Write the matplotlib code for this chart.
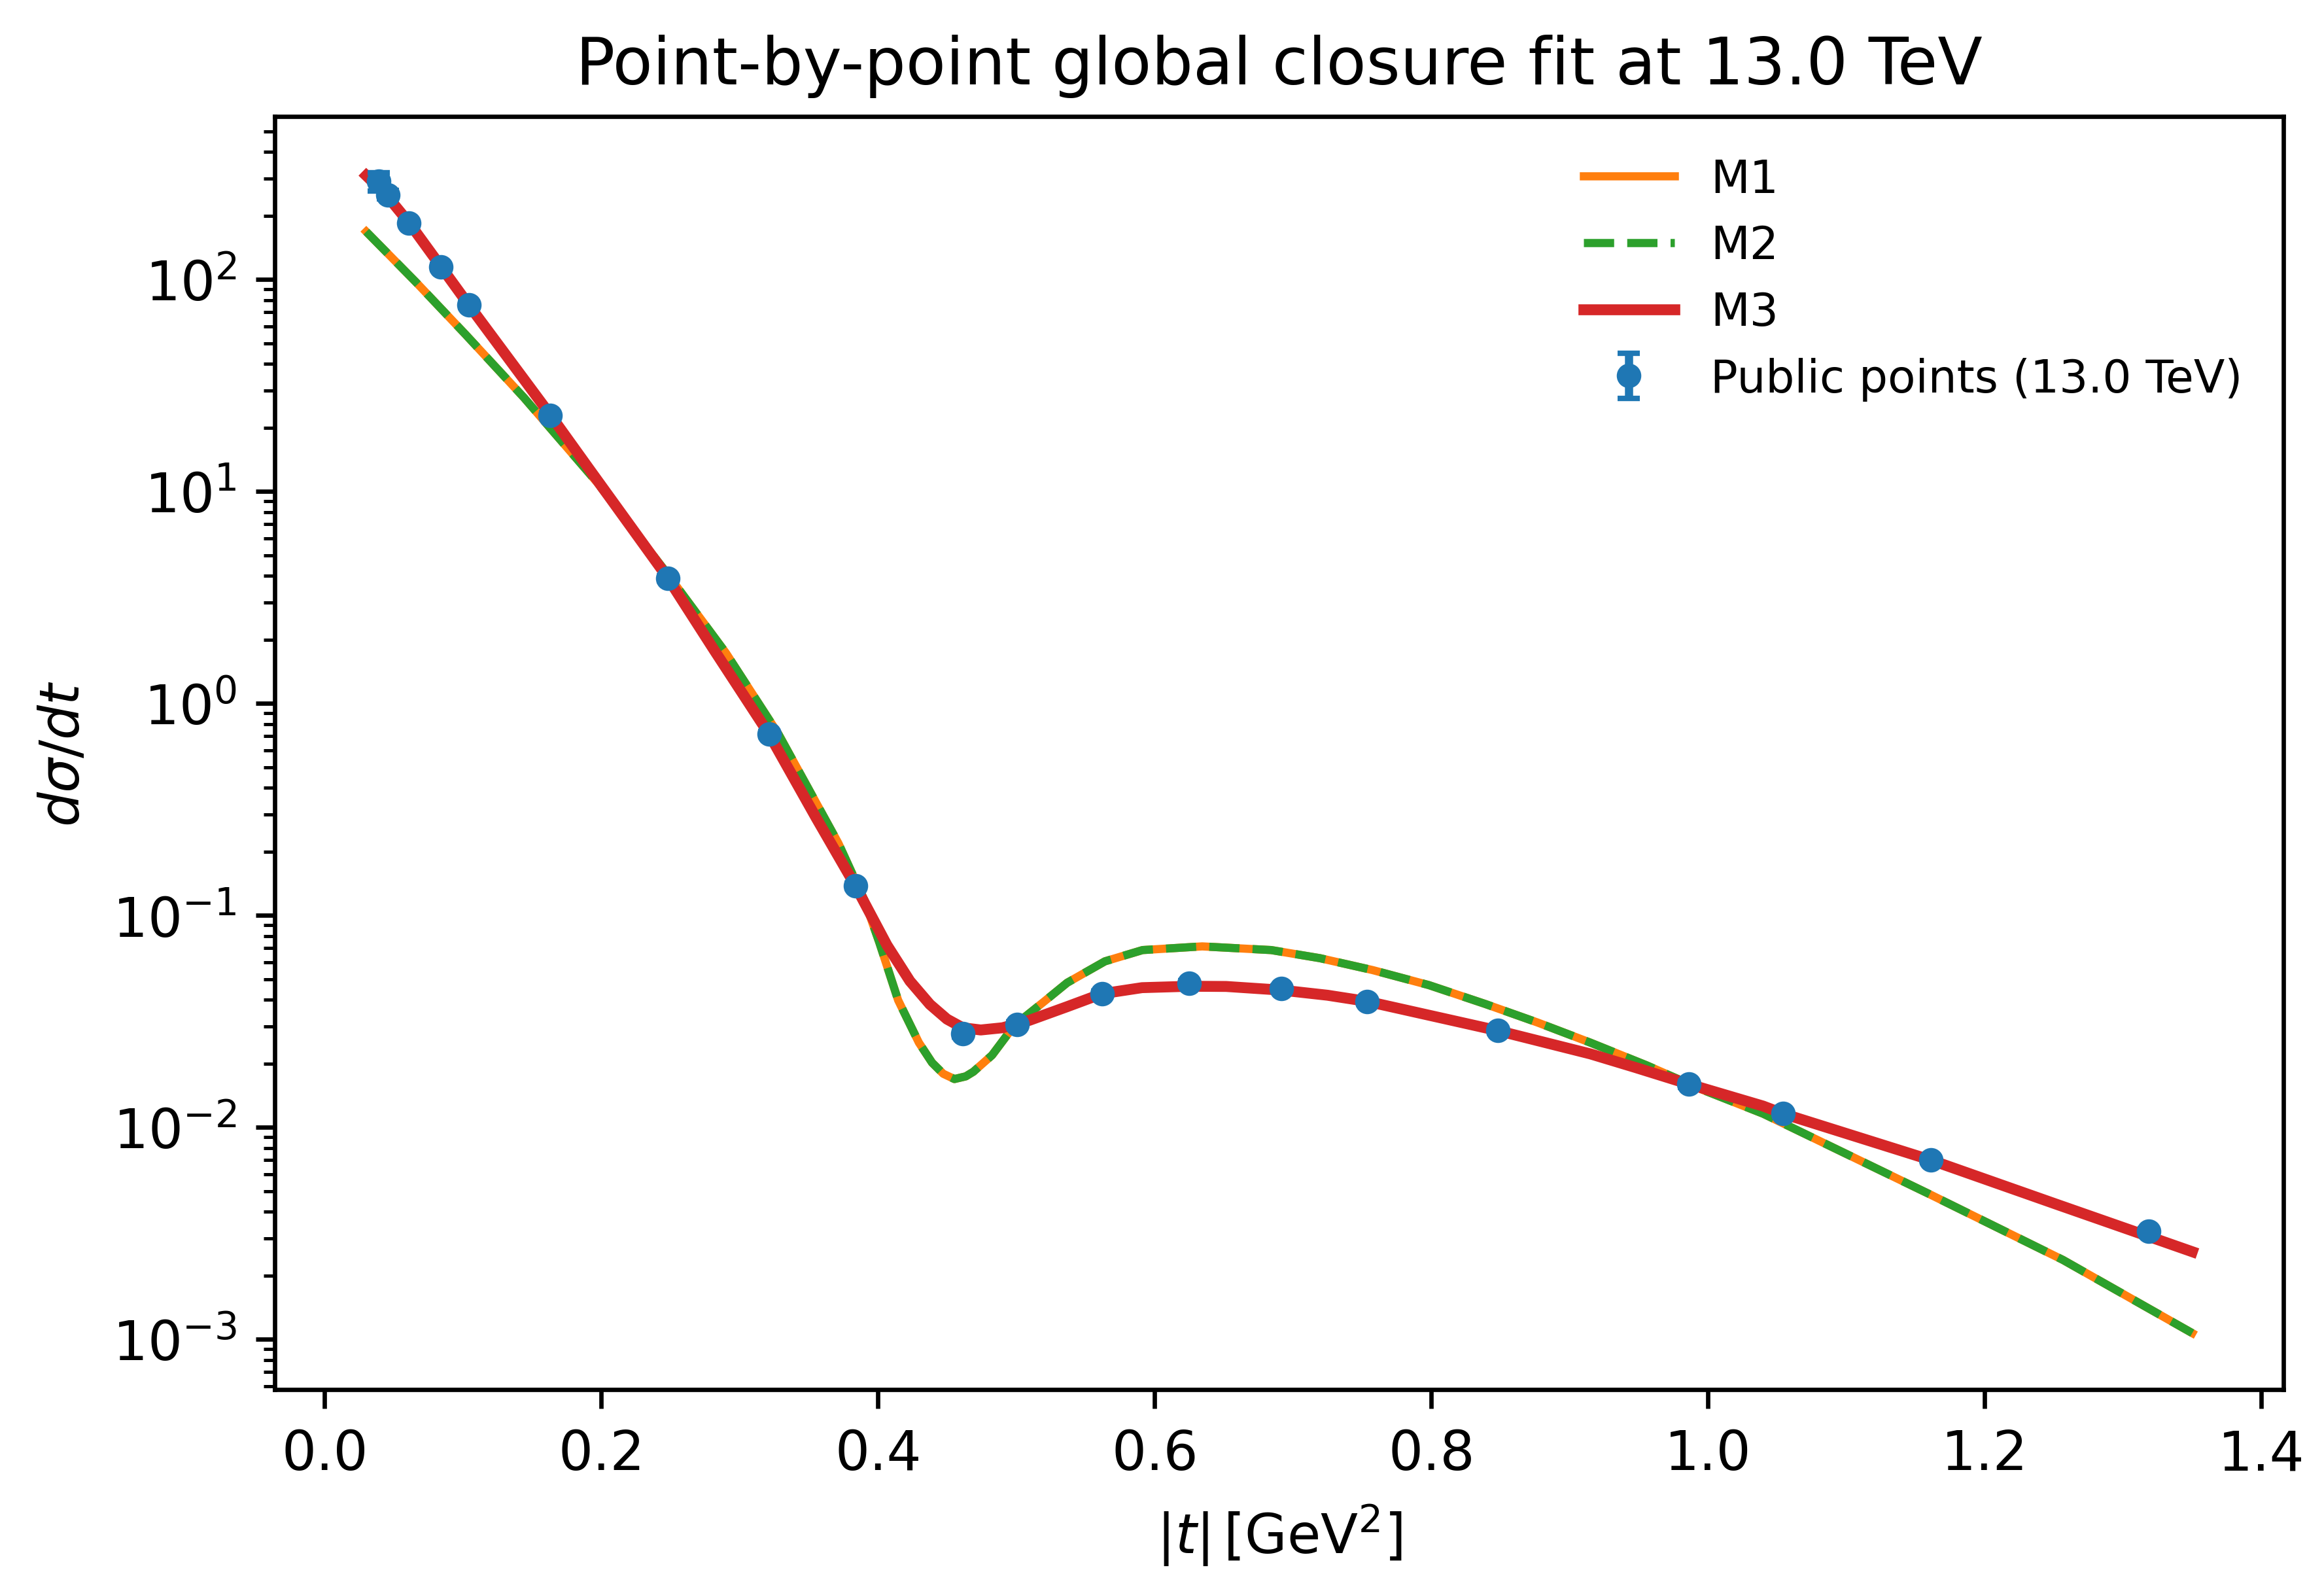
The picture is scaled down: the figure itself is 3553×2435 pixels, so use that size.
import numpy as np
import matplotlib
matplotlib.use("Agg")
import matplotlib.pyplot as plt

# public data points (|t| in GeV^2, dsigma/dt)
t_pts = [0.0388, 0.0458, 0.0606, 0.0840, 0.1043, 0.1629, 0.2478, 0.3213, 0.3836, 0.4611,
         0.5007, 0.5619, 0.6249, 0.6915, 0.7534, 0.8479, 0.9860, 1.0543, 1.1610, 1.3183]
ds_pts = [290.0, 251.0, 185.0, 114.5, 75.8, 22.9, 3.89, 0.716, 0.138, 0.0276,
          0.0305, 0.0427, 0.0478, 0.0453, 0.0393, 0.0286, 0.0160, 0.0116, 0.00701, 0.00324]
ds_err = [29.0, 12.0, 5.0, 3.0, 2.0, 0.6, 0.1, 0.02, 0.004, 0.0008,
          0.0009, 0.0012, 0.0013, 0.0013, 0.0011, 0.0008, 0.0005, 0.0003, 0.0002, 0.0001]

# model curves (M1 and M2 lie on top of each other)
t_m1 = [0.03, 0.066, 0.102, 0.144, 0.197, 0.2475, 0.29, 0.328, 0.3713, 0.3901,
        0.4009, 0.4145, 0.4295, 0.439, 0.4471, 0.4552, 0.4634, 0.4689, 0.4824, 0.4986,
        0.5204, 0.5367, 0.564, 0.5912, 0.6343, 0.6842, 0.7195, 0.7575, 0.7981, 0.8389,
        0.8769, 0.9149, 0.9557, 0.9964, 1.0398, 1.1595, 1.2565, 1.35]
ds_m1 = [168.0, 97.0, 54.8, 27.7, 11.0, 4.10, 1.73, 0.716, 0.219, 0.118,
         0.0745, 0.0398, 0.0251, 0.0202, 0.0179, 0.0169, 0.0174, 0.0183, 0.0219, 0.0303,
         0.0394, 0.0481, 0.0607, 0.0686, 0.0714, 0.0686, 0.0628, 0.0552, 0.0469, 0.0382,
         0.0312, 0.0251, 0.0196, 0.0150, 0.0116, 0.00486, 0.00237, 0.00107]
ds_m2 = list(ds_m1)

t_m3 = [0.03, 0.045, 0.061, 0.084, 0.104, 0.163, 0.191, 0.2475, 0.2816, 0.321,
        0.3553, 0.3836, 0.4064, 0.423, 0.4375, 0.4498, 0.4612, 0.4742, 0.49, 0.5095,
        0.5367, 0.5619, 0.5908, 0.625, 0.6516, 0.6915, 0.7249, 0.7534, 0.8063, 0.8479,
        0.915, 0.947, 0.986, 1.0398, 1.0543, 1.161, 1.2504, 1.3183, 1.35]
ds_m3 = [309.0, 248.0, 185.0, 115.0, 76.0, 23.0, 12.8, 3.95, 1.78, 0.719,
         0.288, 0.138, 0.0724, 0.0490, 0.0380, 0.0324, 0.0295, 0.0288, 0.0295, 0.0320,
         0.0371, 0.0427, 0.0456, 0.0463, 0.0462, 0.0444, 0.0420, 0.0393, 0.0329, 0.0286,
         0.0222, 0.0192, 0.0160, 0.0126, 0.0116, 0.00701, 0.00437, 0.00306, 0.00259]

fig = plt.figure(figsize=(3553/600, 2436/600), dpi=600)
ax = fig.add_axes([0.1183, 0.1277, 0.9826-0.1183, 0.9265-0.1277])

ax.plot(t_m1, ds_m1, color='C1', lw=1.5, label='M1')
ax.plot(t_m1, ds_m2, color='C2', lw=1.5, linestyle='--', label='M2')
ax.plot(t_m3, ds_m3, color='C3', lw=2.0, label='M3')
ax.errorbar(t_pts, ds_pts, yerr=ds_err, fmt='o', color='C0', ms=3.5, capsize=2,
            label='Public points (13.0 TeV)')

ax.set_yscale('log')
ax.set_ylim(5.8e-4, 587)
ax.set_title('Point-by-point global closure fit at 13.0 TeV')
ax.set_xlabel(r'$|t|\,[\mathrm{GeV}^2]$')
ax.set_ylabel(r'$d\sigma/dt$')
ax.legend(loc='upper right', frameon=False, fontsize='small')

fig.savefig('out.png', dpi=600)
